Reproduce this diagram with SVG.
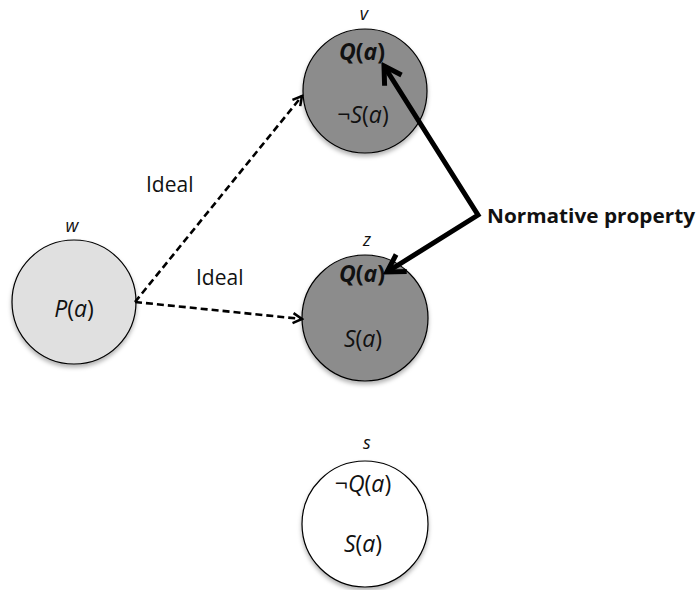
<svg xmlns="http://www.w3.org/2000/svg" width="699" height="590" viewBox="0 0 699 590">
<style>
  .node { stroke: #000; stroke-width: 1.2; filter: url(#shadow); }
  .t { font-family: "Open Sans", "Liberation Sans", sans-serif; fill: #111; }
  .lbl { font-size: 18px; font-style: italic; text-anchor: middle; }
  .f { font-size: 23px; text-anchor: middle; }
  .i { font-style: italic; }
  .b { font-weight: bold; }
  .dash { fill: none; stroke: #000; stroke-width: 2.6; stroke-dasharray: 7 4; marker-end: url(#smallHead); }
  .thick { fill: none; stroke: #000; stroke-width: 5; stroke-linejoin: miter; marker-start: url(#bigHead); marker-end: url(#bigHead); }
</style>
<defs>
  <filter id="shadow" x="-20%" y="-20%" width="140%" height="150%">
    <feDropShadow dx="0" dy="3" stdDeviation="2" flood-color="#000" flood-opacity="0.3"/>
  </filter>
  <marker id="smallHead" markerUnits="userSpaceOnUse" viewBox="0 0 14 14" refX="12" refY="7" markerWidth="14" markerHeight="14" orient="auto">
    <path d="M3,2 L12,7 L3,12" fill="none" stroke="#000" stroke-width="2.5" stroke-dasharray="none"/>
  </marker>
  <marker id="bigHead" markerUnits="userSpaceOnUse" viewBox="0 0 26 26" refX="22" refY="13" markerWidth="26" markerHeight="26" orient="auto-start-reverse">
    <path d="M5,3 L22,13 L5,23" fill="none" stroke="#000" stroke-width="5" stroke-linecap="butt"/>
  </marker>
</defs>
<rect width="699" height="590" fill="#fff"/>

<g id="node-w">
  <circle class="node" cx="74" cy="302" r="62" fill="#e0e0e0"/>
  <text class="t lbl" x="72" y="232">w</text>
  <text class="t f" x="74" y="317"><tspan class="i">P</tspan>(<tspan class="i">a</tspan>)</text>
</g>
<g id="node-v">
  <circle class="node" cx="365" cy="91" r="62" fill="#8c8c8c"/>
  <text class="t lbl" x="364" y="20">v</text>
  <text class="t f b" x="362" y="60"><tspan class="i">Q</tspan>(<tspan class="i">a</tspan>)</text>
  <text class="t f" x="363" y="123">¬<tspan class="i">S</tspan>(<tspan class="i">a</tspan>)</text>
</g>
<g id="node-z">
  <circle class="node" cx="365" cy="318" r="63" fill="#8c8c8c"/>
  <text class="t lbl" x="367" y="246">z</text>
  <text class="t f b" x="362" y="282"><tspan class="i">Q</tspan>(<tspan class="i">a</tspan>)</text>
  <text class="t f" x="363" y="347"><tspan class="i">S</tspan>(<tspan class="i">a</tspan>)</text>
</g>
<g id="node-s">
  <circle class="node" cx="365" cy="524" r="63" fill="#fff"/>
  <text class="t lbl" x="367" y="449">s</text>
  <text class="t f" x="363" y="492">¬<tspan class="i">Q</tspan>(<tspan class="i">a</tspan>)</text>
  <text class="t f" x="363" y="552"><tspan class="i">S</tspan>(<tspan class="i">a</tspan>)</text>
</g>

<g id="connectors">
  <line class="dash" x1="135" y1="302" x2="302" y2="96"/>
  <line class="dash" x1="135" y1="302" x2="302" y2="319"/>
  <path class="thick" d="M384,66 L478,215 L387,272"/>
  <text class="t" x="146" y="192" font-size="21">Ideal</text>
  <text class="t" x="196" y="285" font-size="21">Ideal</text>
  <text class="t b" x="487" y="223" font-size="20" textLength="208" lengthAdjust="spacingAndGlyphs">Normative property</text>
</g>
</svg>
